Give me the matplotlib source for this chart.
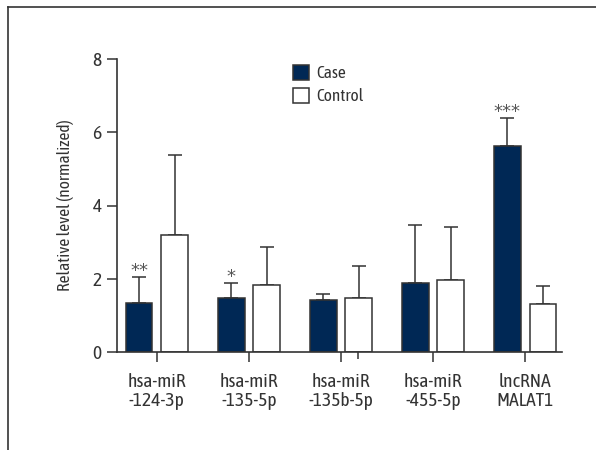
import matplotlib
matplotlib.use("Agg")
import matplotlib.pyplot as plt
import numpy as np
from matplotlib.patches import Patch

plt.rcParams['font.family'] = ['Asap Condensed', 'DejaVu Sans']

categories = ["hsa-miR\n-124-3p", "hsa-miR\n-135-5p", "hsa-miR\n-135b-5p", "hsa-miR\n-455-5p", "lncRNA\nMALAT1"]
case_vals = [1.34, 1.49, 1.43, 1.89, 5.61]
case_err_top = [2.05, 1.88, 1.58, 3.46, 6.38]
control_vals = [3.19, 1.83, 1.49, 1.96, 1.31]
control_err_top = [5.37, 2.86, 2.35, 3.42, 1.81]
signif = ["**", "*", "", "", "***"]
yticks = [0, 2, 4, 6, 8]

navy = "#002855"
edge = "#333333"
txt = "#333333"
FS_TICK = 14
FS_LAB = 12.5
FS_LEG = 12.5

fig = plt.figure(figsize=(5.96, 4.5), dpi=100)
# outer frame lines (top and left)
fig.add_artist(plt.Line2D([8/596, 1.0], [1 - 7/450, 1 - 7/450], color="#333333", lw=1.2, transform=fig.transFigure))
fig.add_artist(plt.Line2D([8/596, 8/596], [0, 1 - 7/450], color="#333333", lw=1.2, transform=fig.transFigure))

ax = fig.add_axes([117/596, (450-352.3)/450, (562.3-117)/596, (352.3-58.7)/450])

x = np.arange(len(categories))
w = 0.288
off = 0.192
case_err = [t - v for t, v in zip(case_err_top, case_vals)]
ctrl_err = [t - v for t, v in zip(control_err_top, control_vals)]

ax.bar(x - off, case_vals, w, color=navy, edgecolor=edge, linewidth=1.1, zorder=2, label="Case")
ax.bar(x + off, control_vals, w, color="white", edgecolor=edge, linewidth=1.1, zorder=2, label="Control")
ax.errorbar(x - off, case_vals, yerr=[np.zeros(len(x)), case_err], fmt='none', ecolor=edge,
            elinewidth=1.1, capsize=5, capthick=1.1, zorder=1)
ax.errorbar(x + off, control_vals, yerr=[np.zeros(len(x)), ctrl_err], fmt='none', ecolor=edge,
            elinewidth=1.1, capsize=5, capthick=1.1, zorder=1)

for xi, top, s in zip(x, case_err_top, signif):
    if s:
        ax.annotate(s, (xi - off, top), xytext=(0, 1.0), textcoords="offset points",
                    ha="center", va="baseline", fontsize=13, color="#555555",
                    family="DejaVu Sans")

ax.set_xlim(-0.433, 4.404)
ax.set_ylim(0, 8)
ax.set_yticks(yticks)
ax.set_xticks(x)
ax.set_xticklabels(categories, fontsize=FS_TICK, color=txt, linespacing=1.05)
ax.set_xticks([2.188], minor=True)
ax.tick_params(axis='x', which='minor', length=5, width=1.1, color=edge, direction='out')
ax.tick_params(axis='both', which='major', labelsize=FS_TICK, labelcolor=txt, color=edge,
               length=7, width=1.1, direction='out')
ax.tick_params(axis='x', which='major', pad=8)
ax.tick_params(axis='y', which='major', pad=4)

for sp in ["top", "right"]:
    ax.spines[sp].set_visible(False)
for sp in ["left", "bottom"]:
    ax.spines[sp].set_color(edge)
    ax.spines[sp].set_linewidth(1.2)

ax.set_ylabel("Relative level (normalized)", fontsize=FS_LAB, color=txt, labelpad=13)

handles = [Patch(facecolor=navy, edgecolor=edge, linewidth=1.1, label="Case"),
           Patch(facecolor="white", edgecolor=edge, linewidth=1.1, label="Control")]
leg = ax.legend(handles=handles, loc="upper left", bbox_to_anchor=((293-117)/(562.3-117), 1 - (65-58.7)/293.6),
                frameon=False, fontsize=FS_LEG, handlelength=0.95, handleheight=0.95,
                handletextpad=0.4, labelspacing=0.3, borderpad=0, borderaxespad=0)
for t in leg.get_texts():
    t.set_color(txt)

fig.savefig("out.png", dpi=100)
